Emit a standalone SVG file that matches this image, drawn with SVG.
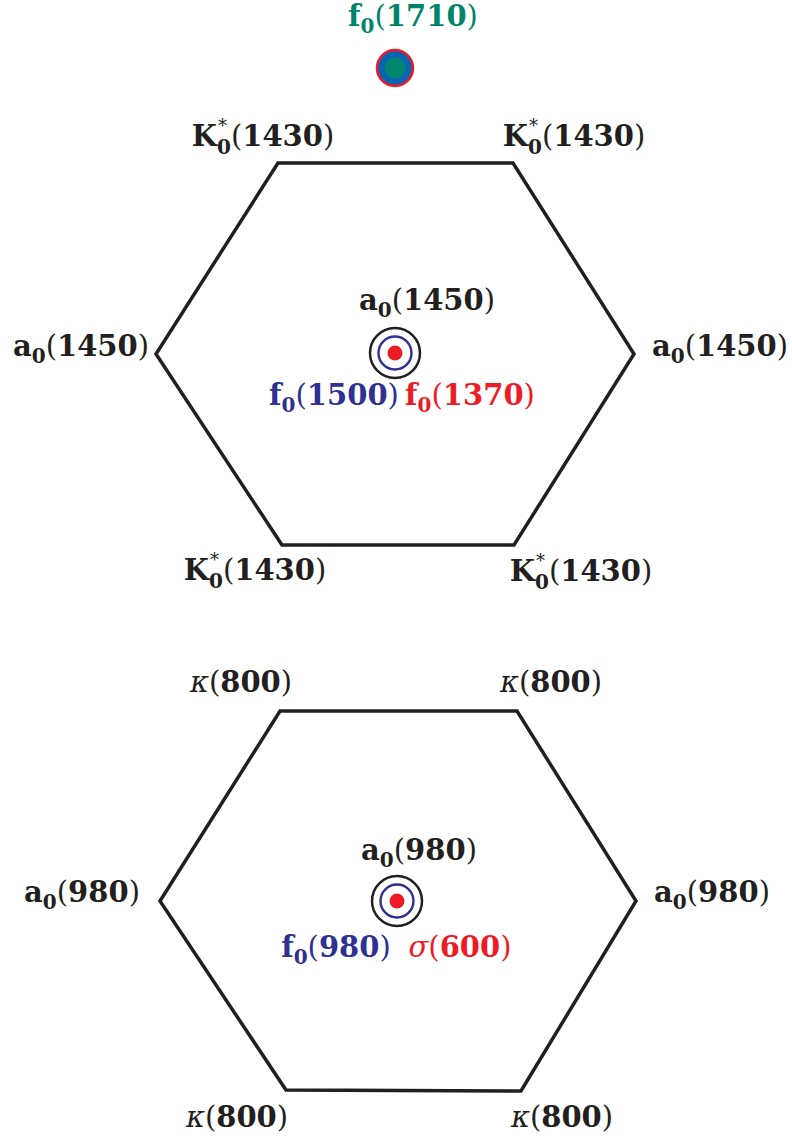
<svg xmlns="http://www.w3.org/2000/svg" width="792" height="1141" viewBox="0 0 792 1141">
<style>
text{font-family:"DejaVu Serif","Liberation Serif",serif;font-weight:bold;font-size:29px;text-anchor:middle;fill:#231f20}
.p{font-weight:normal}
.s{font-size:20px}
.st{font-size:18px;font-weight:normal}
.m{font-style:italic;font-weight:normal}
.blue{fill:#2e3192}
.red{fill:#ed1c24}
.green{fill:#00836b}
.hex{fill:none;stroke:#231f20;stroke-width:3.5;stroke-linejoin:miter}
</style>
<g id="connectors">
<polygon class="hex" points="278,163 513,163 634,354 514,545 282,545 156,354"/>
<polygon class="hex" points="280,711 517,711 636,901 521,1091 286,1090 160,901"/>
</g>
<g id="f0-1710">
<circle cx="395" cy="68" r="18" fill="#0a64b4" stroke="#ed1c24" stroke-width="2.5"/>
<circle cx="395" cy="68" r="10.5" fill="#00866e"/>
<text x="413" y="26" class="green">f<tspan class="s" dy="7">0</tspan><tspan class="p" dy="-7">(</tspan>1710<tspan class="p">)</tspan></text>
</g>
<g id="k1430-tl"><text x="263" y="146">K<tspan class="s" dy="8">0</tspan><tspan class="st" dx="-13" dy="-22">*</tspan><tspan class="p" dx="4" dy="14">(</tspan>1430<tspan class="p">)</tspan></text></g>
<g id="k1430-tr"><text x="574" y="146">K<tspan class="s" dy="8">0</tspan><tspan class="st" dx="-13" dy="-22">*</tspan><tspan class="p" dx="4" dy="14">(</tspan>1430<tspan class="p">)</tspan></text></g>
<g id="k1430-bl"><text x="255" y="580">K<tspan class="s" dy="8">0</tspan><tspan class="st" dx="-13" dy="-22">*</tspan><tspan class="p" dx="4" dy="14">(</tspan>1430<tspan class="p">)</tspan></text></g>
<g id="k1430-br"><text x="581" y="581">K<tspan class="s" dy="8">0</tspan><tspan class="st" dx="-13" dy="-22">*</tspan><tspan class="p" dx="4" dy="14">(</tspan>1430<tspan class="p">)</tspan></text></g>
<g id="a1450-l"><text x="81" y="356">a<tspan class="s" dy="7">0</tspan><tspan class="p" dy="-7">(</tspan>1450<tspan class="p">)</tspan></text></g>
<g id="a1450-r"><text x="720" y="356">a<tspan class="s" dy="7">0</tspan><tspan class="p" dy="-7">(</tspan>1450<tspan class="p">)</tspan></text></g>
<g id="center-top">
<circle cx="395" cy="353" r="25" fill="none" stroke="#231f20" stroke-width="2.5"/>
<circle cx="395" cy="353" r="16.5" fill="none" stroke="#2e3192" stroke-width="2.4"/>
<circle cx="395" cy="353" r="7.5" fill="#ed1c24"/>
<text x="427" y="310">a<tspan class="s" dy="7">0</tspan><tspan class="p" dy="-7">(</tspan>1450<tspan class="p">)</tspan></text>
<text x="334" y="405" class="blue">f<tspan class="s" dy="7">0</tspan><tspan class="p" dy="-7">(</tspan>1500<tspan class="p">)</tspan></text>
<text x="470" y="405" class="red">f<tspan class="s" dy="7">0</tspan><tspan class="p" dy="-7">(</tspan>1370<tspan class="p">)</tspan></text>
</g>
<g id="k800-tl"><text x="241" y="692"><tspan class="m">κ</tspan><tspan class="p">(</tspan>800<tspan class="p">)</tspan></text></g>
<g id="k800-tr"><text x="551" y="692"><tspan class="m">κ</tspan><tspan class="p">(</tspan>800<tspan class="p">)</tspan></text></g>
<g id="a980-l"><text x="82" y="902">a<tspan class="s" dy="7">0</tspan><tspan class="p" dy="-7">(</tspan>980<tspan class="p">)</tspan></text></g>
<g id="a980-r"><text x="712" y="902">a<tspan class="s" dy="7">0</tspan><tspan class="p" dy="-7">(</tspan>980<tspan class="p">)</tspan></text></g>
<g id="center-bottom">
<circle cx="397" cy="901" r="25" fill="none" stroke="#231f20" stroke-width="2.5"/>
<circle cx="397" cy="901" r="16.5" fill="none" stroke="#2e3192" stroke-width="2.4"/>
<circle cx="397" cy="901" r="7.5" fill="#ed1c24"/>
<text x="419" y="860">a<tspan class="s" dy="7">0</tspan><tspan class="p" dy="-7">(</tspan>980<tspan class="p">)</tspan></text>
<text x="336" y="957" class="blue">f<tspan class="s" dy="7">0</tspan><tspan class="p" dy="-7">(</tspan>980<tspan class="p">)</tspan></text>
<text x="460" y="957" class="red"><tspan class="m">σ</tspan><tspan class="p">(</tspan>600<tspan class="p">)</tspan></text>
</g>
<g id="k800-bl"><text x="237" y="1127"><tspan class="m">κ</tspan><tspan class="p">(</tspan>800<tspan class="p">)</tspan></text></g>
<g id="k800-br"><text x="562" y="1127"><tspan class="m">κ</tspan><tspan class="p">(</tspan>800<tspan class="p">)</tspan></text></g>
</svg>
